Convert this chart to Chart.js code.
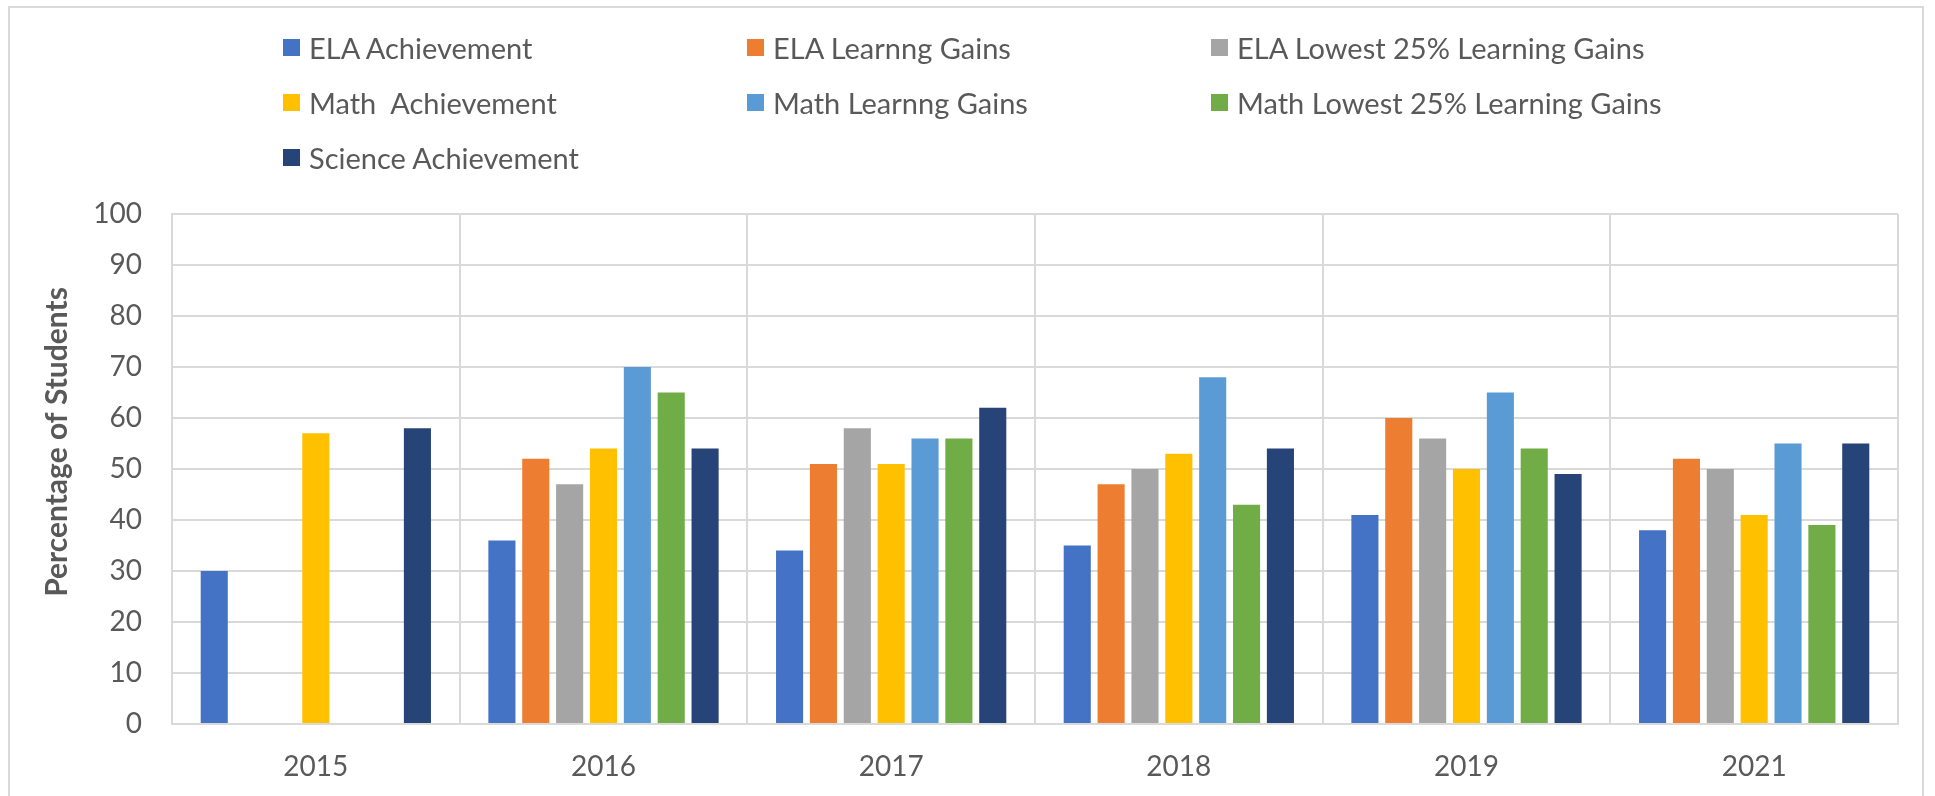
<!DOCTYPE html>
<html>
<head>
<meta charset="utf-8">
<script src="https://cdn.jsdelivr.net/npm/chart.js@4/dist/chart.umd.min.js"></script>
<style>
  html, body { margin: 0; padding: 0; background: #fff; }
  #wrap { position: relative; width: 1935px; height: 796px; overflow: hidden; }
  #frame { position: absolute; left: 8px; top: 6px; width: 1916px; height: 820px; border: 2px solid #d9d9d9; box-sizing: border-box; }
  #chart { position: absolute; left: 0; top: 0; }
  #legend { position: absolute; left: 283px; top: 0; font-family: Lato, sans-serif; font-size: 29px; color: #595959; }
  .item { position: absolute; display: flex; align-items: center; white-space: pre; }
  .swatch { width: 17px; height: 17px; margin-right: 9px; }
</style>
</head>
<body>
<div id="wrap">
  <div id="frame"></div>
  <canvas id="chart" width="1935" height="796"></canvas>
  <div id="legend"></div>
</div>
<script>
const categories = ["2015", "2016", "2017", "2018", "2019", "2021"];

const seriesNames = [
  "ELA Achievement",
  "ELA Learnng Gains",
  "ELA Lowest 25% Learning Gains",
  "Math  Achievement",
  "Math Learnng Gains",
  "Math Lowest 25% Learning Gains",
  "Science Achievement",
];
const seriesColors = ["#4472C4", "#ED7D31", "#A5A5A5", "#FFC000", "#5B9BD5", "#70AD47", "#264478"];

const elaAchievement = [30, 36, 34, 35, 41, 38];
const elaGains = [null, 52, 51, 47, 60, 52];
const elaLowest = [null, 47, 58, 50, 56, 50];
const mathAchievement = [57, 54, 51, 53, 50, 41];
const mathGains = [null, 70, 56, 68, 65, 55];
const mathLowest = [null, 65, 56, 43, 54, 39];
const scienceAchievement = [58, 54, 62, 54, 49, 55];

const seriesValues = [elaAchievement, elaGains, elaLowest, mathAchievement, mathGains, mathLowest, scienceAchievement];

const yTicks = [0, 10, 20, 30, 40, 50, 60, 70, 80, 90, 100];
const yTitle = "Percentage of Students";

const textColor = "#595959";
const gridColor = "#d9d9d9";

// legend as a 3-column grid, same order as the datasets
const legendEl = document.getElementById("legend");
legendEl.innerHTML = seriesNames
  .map((name, i) => {
    const col = i % 3;
    const row = Math.floor(i / 3);
    return `<div class="item" style="left:${col * 464}px; top:${47 + row * 55 - 18}px; height:36px">
      <span class="swatch" style="background:${seriesColors[i]}"></span>${name}</div>`;
  })
  .join("");

// y title sits a bit above the plot's middle in the original, so draw it ourselves
const yTitlePlugin = {
  id: "yTitle",
  afterDraw(chart) {
    const ctx = chart.ctx;
    ctx.save();
    ctx.translate(57, 442);
    ctx.rotate(-Math.PI / 2);
    ctx.fillStyle = textColor;
    ctx.font = "bold 30px Lato";
    ctx.textAlign = "center";
    ctx.textBaseline = "middle";
    ctx.fillText(yTitle, 0, 0);
    ctx.restore();
  },
};

new Chart(document.getElementById("chart"), {
  type: "bar",
  data: {
    labels: categories,
    datasets: seriesNames.map((name, i) => ({
      label: name,
      data: seriesValues[i],
      backgroundColor: seriesColors[i],
      borderWidth: 0,
      categoryPercentage: 0.824,
      barPercentage: 0.8,
    })),
  },
  options: {
    responsive: false,
    animation: false,
    layout: { padding: { left: 0, right: 37, top: 214, bottom: 0 } },
    plugins: {
      legend: { display: false },
      tooltip: { enabled: false },
    },
    scales: {
      x: {
        grid: { color: gridColor, lineWidth: 2, drawTicks: false, offset: true },
        border: { color: gridColor, width: 2 },
        ticks: { color: textColor, font: { family: "Lato", size: 28 }, padding: 26 },
        afterFit: (scale) => { scale.height = 72; },
      },
      y: {
        min: 0,
        max: 100,
        afterBuildTicks: (scale) => { scale.ticks = yTicks.map((v) => ({ value: v })); },
        grid: { color: gridColor, lineWidth: 2, drawTicks: false },
        border: { color: gridColor, width: 2 },
        ticks: { color: textColor, font: { family: "Lato", size: 28 }, padding: 30 },
        afterFit: (scale) => { scale.width = 172; },
      },
    },
  },
  plugins: [yTitlePlugin],
});
</script>
</body>
</html>
